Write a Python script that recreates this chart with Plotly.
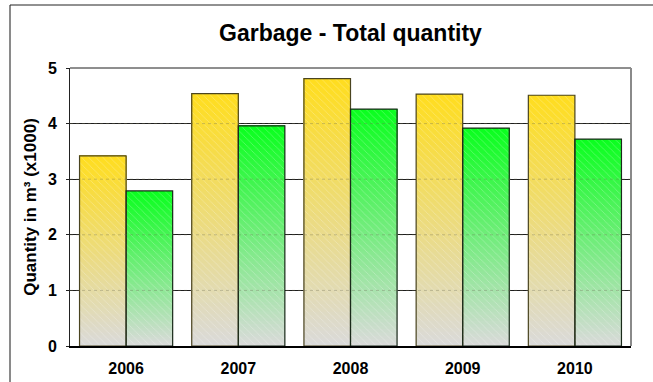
import plotly.graph_objects as go

# Yearly garbage volumes, in thousands of cubic metres
years = ["2006", "2007", "2008", "2009", "2010"]
series_a = [3.42, 4.54, 4.81, 4.53, 4.51]   # yellow bars
series_b = [2.79, 3.96, 4.26, 3.92, 3.72]   # green bars
y_ticks = [0, 1, 2, 3, 4, 5]

title_text = "Garbage - Total quantity"
y_title = "Quantity in m³ (x1000)"

W, H = 653, 382
L, R, T, B = 70, 22, 68, 36
BAR_W = 0.415
STEPS = 70
FONT = "Liberation Sans, Arial, sans-serif"


def mix(c_top, c_bottom, t):
    r = [round(c_bottom[i] + (c_top[i] - c_bottom[i]) * t) for i in range(3)]
    return f"rgb({r[0]},{r[1]},{r[2]})"


def gradient_trace(values, offset, top_rgb, bottom_rgb):
    # Each bar is painted as a stack of overlapping slices whose colour
    # fades from light grey at the base to the full colour at the top.
    xs, bases, heights, colors = [], [], [], []
    for k in range(STEPS):
        frac = k / STEPS
        t = ((k + 0.5) / STEPS) ** 1.0
        for cat, v in zip(years, values):
            xs.append(cat)
            bases.append(v * frac)
            heights.append(v * (1 - frac))
            colors.append(mix(top_rgb, bottom_rgb, t))
    return go.Bar(
        x=xs, y=heights, base=bases, offset=offset, width=BAR_W,
        marker=dict(color=colors, line=dict(width=0)),
        hoverinfo="skip", showlegend=False,
    )


def outline_trace(values, offset, line_color):
    return go.Bar(
        x=years, y=values, offset=offset, width=BAR_W,
        marker=dict(
            color="rgba(0,0,0,0)",
            line=dict(color=line_color, width=1.2),
            pattern=dict(shape="\\", fgcolor="white", fgopacity=0.3,
                         bgcolor="rgba(0,0,0,0)", size=5, solidity=0.15,
                         fillmode="replace"),
        ),
        showlegend=False,
    )


yellow_top, green_top, grey_base = (255, 221, 30), (10, 255, 30), (218, 218, 218)

fig = go.Figure()
fig.add_trace(gradient_trace(series_a, -BAR_W, yellow_top, grey_base))
fig.add_trace(gradient_trace(series_b, 0.0, green_top, grey_base))
fig.add_trace(outline_trace(series_a, -BAR_W, "#4a4420"))
fig.add_trace(outline_trace(series_b, 0.0, "#1a2a1a"))

plot_w = W - L - R
plot_h = H - T - B

shapes = [
    # outer frame (left and top edges)
    dict(type="line", xref="paper", yref="paper",
         x0=(10 - L) / plot_w, x1=(10 - L) / plot_w,
         y0=-(B + 5) / plot_h, y1=(H - 5 - B) / plot_h,
         line=dict(color="#8a8a8a", width=2)),
    dict(type="line", xref="paper", yref="paper",
         x0=(10 - L) / plot_w, x1=(W + 5 - L) / plot_w,
         y0=(H - 5 - B) / plot_h, y1=(H - 5 - B) / plot_h,
         line=dict(color="#222222", width=1)),
    # top and right edges of plot area
    dict(type="line", xref="paper", yref="paper",
         x0=0, x1=1, y0=1, y1=1,
         line=dict(color="#1e1e1e", width=1)),
    dict(type="line", xref="paper", yref="paper",
         x0=1, x1=1, y0=0, y1=1,
         line=dict(color="#8a8a8a", width=2)),
]
# faint dotted grid showing through the bars
for v in y_ticks[1:-1]:
    shapes.append(dict(type="line", xref="paper", yref="y",
                       x0=0, x1=1, y0=v, y1=v, layer="above",
                       line=dict(color="rgba(110,110,80,0.35)", width=1,
                                 dash="dot")))

fig.update_layout(
    width=W, height=H,
    margin=dict(l=L, r=R, t=T, b=B, autoexpand=False),
    paper_bgcolor="white", plot_bgcolor="white",
    barmode="overlay",
    title=dict(text=f"<b>{title_text}</b>", x=(L + plot_w / 2) / W,
               xanchor="center", y=1 - 33 / H, yanchor="middle",
               font=dict(family=FONT, size=23, color="black")),
    xaxis=dict(
        type="category", categoryorder="array", categoryarray=years,
        tickvals=years, ticktext=[f"<b>{y}</b>" for y in years],
        tickfont=dict(family=FONT, size=16, color="black"),
        showline=True, linecolor="black", linewidth=2,
        showgrid=False, ticks="", ticklabelstandoff=7,
        range=[-0.5, 4.5], automargin=False,
    ),
    yaxis=dict(
        range=[0, 5], tickvals=y_ticks,
        ticktext=[f"<b>{v}</b>" for v in y_ticks],
        tickfont=dict(family=FONT, size=16, color="black"),
        showline=True, linecolor="#222222", linewidth=1,
        showgrid=True, gridcolor="#1e1e1e", gridwidth=1,
        zeroline=False, ticks="outside", ticklen=3, tickcolor="#222222",
        ticklabelstandoff=6, automargin=False,
        title=dict(text=f"<b>{y_title}</b>", standoff=6,
                   font=dict(family=FONT, size=17, color="black")),
        layer="below traces",
    ),
    shapes=shapes,
)

fig.write_html("out.html")
